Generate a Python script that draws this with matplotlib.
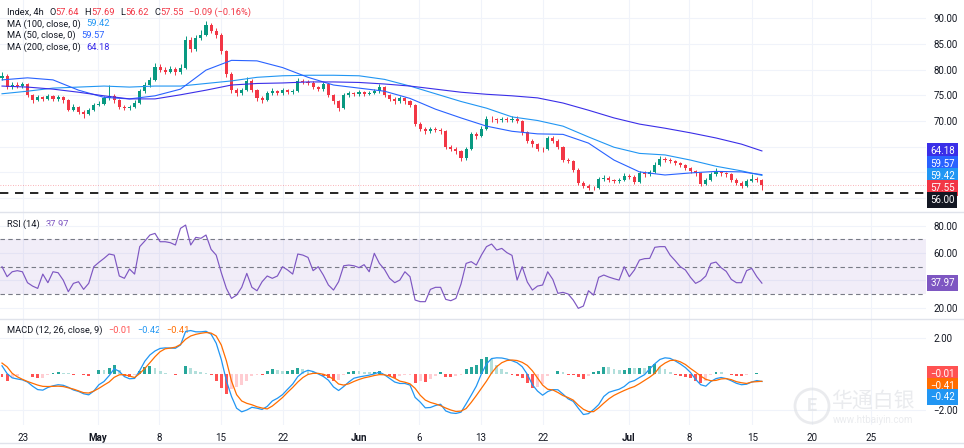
import numpy as np
import matplotlib

matplotlib.use("Agg")
import matplotlib.pyplot as plt
from matplotlib.lines import Line2D
from matplotlib.patches import Ellipse
from matplotlib.transforms import blended_transform_factory

plt.rcParams["font.family"] = ["Roboto", "DejaVu Sans"]

# ---- data (one bar ~ two 4h candles) ----
opens = [78.3, 78.8, 76.6, 77.0, 76.8, 77.2, 75.0, 74.0, 74.6, 74.2,
         74.8, 74.2, 74.6, 74.0, 72.2, 72.8, 71.8, 71.4, 72.2, 73.2,
         73.4, 74.4, 74.8, 74.0, 72.8, 72.6, 72.8, 73.6, 75.8, 77.0,
         78.0, 80.6, 80.0, 79.6, 80.2, 79.5, 80.4, 85.8, 84.0, 86.2,
         86.8, 88.6, 87.6, 86.8, 83.6, 79.2, 76.0, 75.4, 76.0, 77.8,
         76.0, 74.5, 74.0, 75.5, 75.8, 75.4, 76.0, 75.6, 75.8, 77.8,
         77.6, 77.4, 76.6, 76.2, 77.2, 75.0, 73.8, 72.5, 75.0, 75.4,
         75.2, 75.6, 75.3, 75.5, 75.8, 76.6, 75.0, 74.2, 73.8, 74.4,
         73.8, 73.2, 69.5, 68.4, 68.0, 68.4, 68.3, 68.0, 65.0, 64.6,
         64.2, 62.8, 64.6, 67.4, 67.0, 68.5, 70.4, 70.3, 70.1, 70.3,
         70.2, 70.4, 70.0, 67.8, 66.2, 65.5, 64.6, 64.5, 66.6, 66.2,
         65.0, 62.4, 62.2, 60.5, 58.0, 57.3, 57.0, 56.9, 58.8, 59.0,
         58.5, 58.3, 58.6, 59.3, 59.2, 58.2, 59.8, 59.6, 60.0, 61.5,
         62.6, 62.5, 62.2, 61.8, 61.4, 60.8, 60.2, 59.8, 57.8, 58.5,
         59.6, 60.0, 59.8, 59.6, 58.6, 58.0, 57.4, 58.4, 58.8, 58.6]
highs = [79.5, 79.1, 77.6, 77.5, 77.6, 77.4, 75.3, 75.0, 74.9, 75.3,
         75.1, 75.0, 74.9, 74.2, 73.3, 73.0, 72.1, 72.6, 73.6, 73.9,
         74.8, 77.0, 75.2, 74.2, 73.1, 73.2, 74.0, 76.2, 77.5, 78.5,
         81.2, 81.0, 80.5, 80.7, 80.6, 81.0, 86.5, 86.3, 86.8, 87.7,
         89.4, 89.0, 88.0, 87.1, 83.9, 79.6, 76.4, 76.5, 78.5, 78.1,
         76.2, 74.9, 75.9, 76.4, 76.1, 76.5, 76.3, 76.2, 78.3, 78.2,
         77.9, 77.7, 76.9, 77.6, 77.4, 75.3, 74.0, 75.4, 75.9, 75.7,
         76.0, 75.9, 75.9, 76.2, 77.2, 76.8, 75.3, 74.6, 74.9, 74.7,
         74.1, 73.4, 69.8, 68.8, 68.9, 68.8, 68.6, 68.2, 65.4, 64.9,
         64.4, 65.0, 67.9, 67.8, 69.0, 70.9, 71.0, 70.6, 70.8, 70.7,
         70.9, 71.0, 70.2, 68.1, 66.5, 65.8, 65.0, 67.1, 67.0, 66.5,
         65.2, 62.8, 62.5, 60.8, 58.4, 57.7, 57.4, 59.2, 59.5, 59.3,
         58.8, 59.0, 59.9, 59.7, 59.5, 60.2, 60.2, 60.5, 62.0, 63.1,
         63.0, 62.9, 62.5, 62.1, 61.7, 61.1, 60.5, 60.0, 58.9, 60.0,
         60.8, 60.3, 60.1, 59.8, 58.9, 58.3, 58.8, 59.6, 59.1, 58.8]
lows = [78.0, 76.2, 76.3, 76.4, 76.5, 74.6, 73.6, 73.8, 73.8, 74.0,
        73.9, 73.9, 73.6, 71.9, 71.9, 71.4, 70.6, 71.1, 72.0, 72.9,
        73.2, 74.1, 73.6, 72.4, 72.2, 72.2, 72.5, 73.4, 75.5, 76.7,
        77.8, 79.6, 79.1, 79.3, 79.0, 79.2, 80.2, 83.4, 83.7, 85.8,
        86.5, 87.1, 86.2, 83.0, 78.6, 75.4, 74.8, 75.0, 75.8, 75.6,
        73.9, 73.5, 73.8, 75.1, 75.0, 75.1, 75.2, 75.2, 75.6, 77.2,
        77.0, 76.2, 75.8, 75.9, 74.6, 73.4, 71.9, 72.3, 74.7, 74.8,
        74.9, 74.9, 75.0, 75.2, 75.5, 74.6, 73.8, 73.4, 73.5, 73.4,
        72.7, 69.0, 68.0, 67.5, 67.7, 67.9, 67.4, 64.5, 64.1, 63.6,
        62.2, 62.5, 64.3, 66.5, 66.8, 68.3, 69.9, 69.7, 69.8, 69.8,
        69.9, 69.6, 67.3, 65.8, 65.0, 64.2, 64.0, 64.3, 65.8, 64.6,
        62.0, 61.8, 60.0, 57.6, 56.9, 56.6, 56.5, 56.7, 58.4, 58.1,
        57.9, 58.0, 58.3, 58.8, 57.8, 58.0, 59.2, 59.3, 59.8, 61.3,
        62.1, 61.8, 61.4, 61.0, 60.4, 59.8, 59.4, 57.4, 57.5, 58.3,
        59.3, 59.4, 59.2, 58.2, 57.6, 56.9, 57.2, 58.1, 58.2, 56.62]
closes = [78.8, 76.6, 77.0, 76.8, 77.2, 75.0, 74.0, 74.6, 74.2, 74.8,
          74.2, 74.6, 74.0, 72.2, 72.8, 71.8, 71.4, 72.2, 73.2, 73.4,
          74.4, 74.8, 74.0, 72.8, 72.6, 72.8, 73.6, 75.8, 77.0, 78.0,
          80.6, 80.0, 79.6, 80.2, 79.5, 80.4, 85.8, 84.0, 86.2, 86.8,
          88.6, 87.6, 86.8, 83.6, 79.2, 76.0, 75.4, 76.0, 77.8, 76.0,
          74.5, 74.0, 75.5, 75.8, 75.4, 76.0, 75.6, 75.8, 77.8, 77.6,
          77.4, 76.6, 76.2, 77.2, 75.0, 73.8, 72.5, 75.0, 75.4, 75.2,
          75.6, 75.3, 75.5, 75.8, 76.6, 75.0, 74.2, 73.8, 74.4, 73.8,
          73.2, 69.5, 68.4, 68.0, 68.4, 68.3, 68.0, 65.0, 64.6, 64.2,
          62.8, 64.6, 67.4, 67.0, 68.5, 70.4, 70.3, 70.1, 70.3, 70.2,
          70.4, 70.0, 67.8, 66.2, 65.5, 64.6, 64.5, 66.6, 66.2, 65.0,
          62.4, 62.2, 60.5, 58.0, 57.3, 57.0, 56.9, 58.8, 59.0, 58.5,
          58.3, 58.6, 59.3, 59.2, 58.2, 59.8, 59.6, 60.0, 61.5, 62.6,
          62.5, 62.2, 61.8, 61.4, 60.8, 60.2, 59.8, 57.8, 58.5, 59.6,
          60.0, 59.8, 59.6, 58.6, 58.0, 57.4, 58.4, 58.8, 58.6, 57.55]

# moving averages sampled every 5 bars
ma_idx = list(range(0, 150, 5)) + [149]
ma50 = [78.0, 78.4, 78.0, 76.0, 74.6, 74.3, 74.9, 76.2, 79.9, 81.8,
        81.7, 80.4, 78.5, 77.0, 76.4, 75.8, 74.4, 72.3, 70.6, 69.0,
        68.0, 67.5, 67.4, 65.7, 62.4, 60.1, 59.5, 59.9, 60.2, 60.1, 59.57]
ma100 = [75.3, 75.8, 76.4, 76.6, 76.8, 76.6, 76.8, 76.8, 77.3, 77.8,
         78.5, 78.8, 78.9, 78.9, 78.8, 78.1, 76.8, 75.3, 73.8, 72.5,
         70.8, 70.1, 69.0, 66.9, 64.9, 63.7, 63.4, 62.4, 61.2, 60.3, 59.42]
ma200 = [76.8, 76.6, 76.2, 75.6, 74.9, 74.3, 74.3, 75.1, 76.0, 77.0,
         77.3, 77.4, 77.6, 77.6, 77.5, 77.2, 76.8, 76.2, 75.6, 75.2,
         74.9, 74.5, 73.5, 72.1, 70.6, 69.4, 68.6, 67.7, 66.7, 65.5, 64.18]

rsi = [50.0, 42.7, 46.3, 47.1, 46.3, 38.3, 35.8, 34.1, 44.6, 38.3,
       46.3, 45.6, 40.2, 31.7, 37.8, 39.0, 33.4, 37.8, 50.0, 53.2,
       56.1, 59.3, 58.5, 43.2, 41.5, 48.3, 44.6, 64.7, 68.8, 73.2,
       74.4, 68.3, 68.3, 67.6, 65.9, 78.1, 80.5, 65.9, 71.5, 70.8,
       73.2, 62.7, 58.5, 45.6, 34.1, 26.8, 29.2, 34.9, 45.1, 34.9,
       32.4, 39.0, 43.2, 41.5, 43.2, 50.0, 47.6, 44.6, 59.3, 58.5,
       56.8, 47.1, 50.0, 43.9, 36.6, 32.9, 39.0, 50.7, 51.2, 50.7,
       49.3, 51.5, 46.3, 59.8, 52.4, 48.0, 41.5, 38.3, 40.2, 46.3,
       42.7, 25.6, 24.4, 24.4, 33.4, 34.9, 34.9, 26.1, 25.1, 26.8,
       37.3, 52.4, 53.7, 51.2, 58.5, 64.7, 66.6, 62.2, 63.4, 60.3,
       58.3, 40.2, 50.0, 38.8, 32.9, 35.8, 36.6, 46.3, 40.7, 30.5,
       31.2, 30.0, 25.6, 19.5, 21.2, 32.4, 29.2, 42.2, 43.9, 42.4,
       41.2, 40.2, 50.0, 42.7, 47.6, 54.9, 55.9, 56.1, 64.2, 64.7,
       64.7, 58.5, 54.4, 50.0, 47.6, 42.2, 37.8, 39.7, 43.2, 52.4,
       53.4, 49.3, 46.6, 40.7, 38.3, 38.3, 47.1, 48.8, 42.7, 37.97]

macd = [0.45, 0.02, -0.22, -0.28, -0.33, -0.45, -0.68, -0.87, -0.90, -0.75,
        -0.66, -0.60, -0.63, -0.74, -0.89, -0.97, -1.10, -1.16, -0.95, -0.60,
        -0.42, -0.10, 0.28, 0.14, -0.15, -0.27, -0.25, 0.18, 0.70, 1.05,
        1.27, 1.41, 1.44, 1.43, 1.42, 1.60, 2.35, 2.40, 2.33, 2.33,
        2.36, 2.20, 1.70, 0.80, -0.38, -1.25, -1.90, -2.10, -2.00, -1.85,
        -1.90, -1.97, -1.80, -1.50, -1.35, -1.15, -0.85, -0.56, -0.15, 0.08,
        0.20, 0.13, 0.00, -0.14, -0.35, -0.72, -0.92, -0.70, -0.45, -0.24,
        -0.17, -0.12, -0.07, 0.00, 0.10, -0.05, -0.25, -0.45, -0.53, -0.53,
        -0.62, -1.30, -1.56, -1.88, -1.86, -1.75, -1.68, -2.05, -2.16, -2.19,
        -2.12, -1.66, -1.18, -0.68, 0.00, 0.55, 0.85, 0.89, 0.88, 0.82,
        0.73, 0.62, 0.40, -0.02, -0.60, -0.95, -1.18, -0.98, -0.87, -0.88,
        -1.12, -1.38, -1.52, -1.90, -2.25, -2.20, -1.97, -1.70, -1.25, -1.02,
        -0.93, -0.85, -0.70, -0.46, -0.37, -0.20, -0.04, 0.28, 0.56, 0.80,
        0.89, 0.86, 0.72, 0.55, 0.35, 0.08, -0.30, -0.60, -0.68, -0.42,
        -0.26, -0.20, -0.26, -0.38, -0.52, -0.60, -0.57, -0.45, -0.37, -0.42]
signal = [0.60, 0.39, 0.03, -0.16, -0.30, -0.42, -0.52, -0.62, -0.69, -0.70,
          -0.69, -0.68, -0.70, -0.77, -0.84, -0.94, -1.04, -1.06, -0.95, -0.80,
          -0.62, -0.45, -0.19, -0.05, -0.04, -0.12, -0.20, 0.02, 0.30, 0.62,
          0.95, 1.23, 1.39, 1.43, 1.48, 1.63, 1.92, 2.10, 2.19, 2.25,
          2.29, 2.26, 2.10, 1.60, 0.72, -0.40, -1.15, -1.50, -1.63, -1.71,
          -1.82, -1.89, -1.94, -1.78, -1.55, -1.31, -1.02, -0.75, -0.45, -0.20,
          -0.03, 0.03, 0.03, -0.02, -0.12, -0.30, -0.56, -0.62, -0.55, -0.42,
          -0.31, -0.22, -0.16, -0.09, -0.04, -0.05, -0.12, -0.24, -0.40, -0.46,
          -0.55, -0.80, -1.18, -1.45, -1.58, -1.66, -1.76, -1.89, -2.00, -2.08,
          -2.06, -1.92, -1.58, -1.20, -0.80, -0.40, 0.05, 0.40, 0.62, 0.74,
          0.77, 0.74, 0.64, 0.47, 0.17, -0.22, -0.62, -0.85, -0.89, -1.03,
          -1.20, -1.31, -1.45, -1.73, -1.96, -2.09, -2.09, -1.88, -1.62, -1.38,
          -1.19, -1.05, -0.92, -0.80, -0.70, -0.54, -0.36, -0.18, 0.03, 0.40,
          0.60, 0.74, 0.76, 0.67, 0.52, 0.30, 0.10, -0.12, -0.30, -0.38,
          -0.36, -0.28, -0.26, -0.32, -0.43, -0.49, -0.53, -0.45, -0.43, -0.41]

date_pos = [4.1, 18.8, 30.8, 42.9, 55.1, 70.0, 81.8, 93.9, 106.1, 122.9,
            134.7, 147.1, 158.8, 170.4]
date_labels = ["23", "May", "8", "15", "22", "Jun", "6", "13", "22", "Jul",
               "8", "15", "20", "25"]
support = 56.0

# ---- style ----
DARK = "#131722"
UP, DOWN = "#089981", "#f23645"
C_MA50, C_MA100, C_MA200 = "#2962ff", "#2196f3", "#3a2ee8"
C_RSI = "#7e57c2"
C_MACD, C_SIG = "#2196f3", "#ff6d00"
GRID = "#f0f3fa"
SEP = "#e0e3eb"
WMARK = "#dcdfe4"

W, H = 964, 448
PLOT_W = 926
X0, XSTEP = 2.0, 5.1  # pixel position of bar 0 and bar spacing

fig = plt.figure(figsize=(W / 100, H / 100), dpi=100)


def pane(top, bottom):
    ax = fig.add_axes([0, 1 - bottom / H, PLOT_W / W, (bottom - top) / H])
    ax.set_xlim(-X0 / XSTEP, (PLOT_W - X0) / XSTEP)
    for s in ax.spines.values():
        s.set_visible(False)
    ax.set_facecolor("none")
    ax.yaxis.tick_right()
    ax.tick_params(axis="y", length=0, pad=5.5, labelsize=7, labelcolor=DARK)
    ax.tick_params(axis="x", length=0)
    ax.set_xticks(date_pos)
    ax.grid(True, color=GRID, lw=0.8, zorder=0)
    ax.set_axisbelow(True)
    return ax


def ticks(ax, values, shown):
    ax.set_yticks(values)
    ax.set_yticklabels([f"{v:.2f}" if v in shown else "" for v in values])


ax_p = pane(0, 212)
ax_r = pane(212, 319)
ax_m = pane(319, 425)

x = np.arange(len(closes))
o, h, l, c = map(np.array, (opens, highs, lows, closes))

# ---- price pane ----
ax_p.set_ylim(52.3, 93.54)
ticks(ax_p, list(range(55, 91, 5)), (70, 75, 80, 85, 90))
ax_p.set_xticklabels([])
col = np.where(c >= o, UP, DOWN)
ax_p.vlines(x, l, h, colors=col, lw=0.7, zorder=3)
ax_p.bar(x, np.maximum(np.abs(c - o), 0.1), bottom=np.minimum(o, c),
         width=0.62, color=col, lw=0, zorder=3)
ax_p.plot(ma_idx, ma100, color=C_MA100, lw=0.8, zorder=4)
ax_p.plot(ma_idx, ma50, color=C_MA50, lw=0.8, zorder=4)
ax_p.plot(ma_idx, ma200, color=C_MA200, lw=0.8, zorder=4)
ax_p.axhline(support, color="black", lw=1.2, ls=(0, (5, 4)), zorder=4)
ax_p.axhline(closes[-1], color=DOWN, lw=0.6, ls=(0, (1, 2)), alpha=0.5, zorder=2)

# ---- RSI pane ----
ax_r.set_ylim(11.7, 90.07)
ticks(ax_r, [20, 40, 60, 80], (20, 60, 80))
ax_r.set_xticklabels([])
ax_r.axhspan(30, 70, color=C_RSI, alpha=0.1, lw=0, zorder=1)
for lvl in (70, 50, 30):
    ax_r.axhline(lvl, color="#787b86", lw=0.8, ls=(0, (4, 3)), zorder=2)
ax_r.plot(x, rsi, color=C_RSI, lw=0.85, zorder=3)

# ---- MACD pane ----
ax_m.set_ylim(-2.83, 3.04)
ax_m.set_yticks([-2, 2])
ax_m.set_yticklabels(["\u22122.00", "2.00"])
mc, sg = np.array(macd), np.array(signal)
hist = mc - sg
hcol = []
for i, v in enumerate(hist):
    prev = hist[i - 1] if i else v
    if v >= 0:
        hcol.append("#26a69a" if v >= prev else "#b2dfdb")
    else:
        hcol.append("#ff5252" if v <= prev else "#ffcdd2")
ax_m.bar(x, hist, width=0.55, color=hcol, lw=0, zorder=2)
ax_m.plot(x, mc, color=C_MACD, lw=0.9, zorder=3)
ax_m.plot(x, sg, color=C_SIG, lw=0.9, zorder=3)
ax_m.set_xticklabels(date_labels)
ax_m.tick_params(axis="x", pad=6, labelsize=7, labelcolor=DARK)
for t in ax_m.get_xticklabels():
    if t.get_text() in ("May", "Jun", "Jul"):
        t.set_fontweight("bold")


# ---- right scale value boxes ----
def spread(vals, gap, anchor_top=False):
    order = np.argsort(vals)[::-1]
    pos = [vals[k] for k in order]
    for _ in range(300):
        moved = False
        for k in range(len(pos) - 1):
            d = pos[k] - pos[k + 1]
            if d < gap - 1e-9:
                if anchor_top:
                    pos[k + 1] = pos[k] - gap
                else:
                    s = (gap - d) / 2
                    pos[k] += s
                    pos[k + 1] -= s
                moved = True
        if not moved:
            break
    out = [0] * len(vals)
    for k, idx in enumerate(order):
        out[idx] = pos[k]
    return out


def boxes(ax, items, gap, anchor_top=False):
    tr = blended_transform_factory(ax.transAxes, ax.transData)
    ys = spread([v for v, _ in items], gap, anchor_top)
    for (v, fc), y in zip(items, ys):
        txt = f"{v:.2f}".replace("-", "\u2212")
        ax.text(1.0045, y, txt, transform=tr, ha="left", va="center",
                fontsize=7, color="white", clip_on=False, zorder=6,
                bbox=dict(boxstyle="square,pad=0.3", fc=fc, ec="none"))


boxes(ax_p, [(ma200[-1], C_MA200), (ma50[-1], C_MA50), (ma100[-1], C_MA100),
             (closes[-1], DOWN), (support, DARK)], 2.35)
boxes(ax_r, [(rsi[-1], C_RSI)], 2.0)
boxes(ax_m, [(round(hist[-1], 2), "#ff5252"), (signal[-1], C_SIG),
             (macd[-1], C_MACD)], 0.64, anchor_top=True)


# ---- legends (chained coloured text) ----
def header(y_px, parts, size=6.7):
    t = fig.text(7 / W, 1 - y_px / H, parts[0][0], color=parts[0][1],
                 fontsize=size, ha="left", va="center")
    for s, colr, gap in parts[1:]:
        t = ax_p.annotate(s, xy=(1, 0.5), xycoords=t, xytext=(gap, 0),
                          textcoords="offset points", ha="left", va="center",
                          color=colr, fontsize=size, annotation_clip=False)


header(12.3, [("Index, 4h", DARK),
              ("O", DARK, 4), ("57.64", DOWN, 0),
              ("H", DARK, 4), ("57.69", DOWN, 0),
              ("L", DARK, 4), ("56.62", DOWN, 0),
              ("C", DARK, 4), ("57.55", DOWN, 0),
              ("\u22120.09 (\u22120.16%)", DOWN, 4)])
header(24.0, [("MA (100, close, 0)", DARK), (f"{ma100[-1]:.2f}", C_MA100, 4)])
header(35.7, [("MA (50, close, 0)", DARK), (f"{ma50[-1]:.2f}", C_MA50, 4)])
header(47.3, [("MA (200, close, 0)", DARK), (f"{ma200[-1]:.2f}", C_MA200, 4)])
header(224.3, [("RSI (14)", DARK), (f"{rsi[-1]:.2f}", C_RSI, 4)])
header(330.7, [("MACD (12, 26, close, 9)", DARK),
               (f"\u2212{abs(hist[-1]):.2f}", "#ff5252", 4),
               (f"\u2212{abs(macd[-1]):.2f}", C_MACD, 4),
               (f"\u2212{abs(signal[-1]):.2f}", C_SIG, 4)])

# ---- pane separators and watermark ----
for yp in (212, 319, 443):
    fig.add_artist(Line2D([0, 1], [1 - yp / H] * 2, transform=fig.transFigure,
                          color=SEP, lw=1))

fig.add_artist(Ellipse((812 / W, 1 - 406 / H), 34 / W, 34 / H,
                       transform=fig.transFigure, fill=False, ec=WMARK,
                       lw=2, alpha=0.6))
fig.text(812 / W, 1 - 406 / H, "E", fontsize=13, color=WMARK, alpha=0.6,
         ha="center", va="center", fontweight="bold")
fig.text(873 / W, 1 - 401 / H, "华通白银", family=["Noto Sans CJK SC"],
         fontsize=15, color=WMARK, alpha=0.6, ha="center", va="center")
fig.text(873 / W, 1 - 420 / H, "www.htbaiyin.com", fontsize=7,
         color=WMARK, alpha=0.6, ha="center", va="center")

fig.savefig("out.png", dpi=100, facecolor="white")
